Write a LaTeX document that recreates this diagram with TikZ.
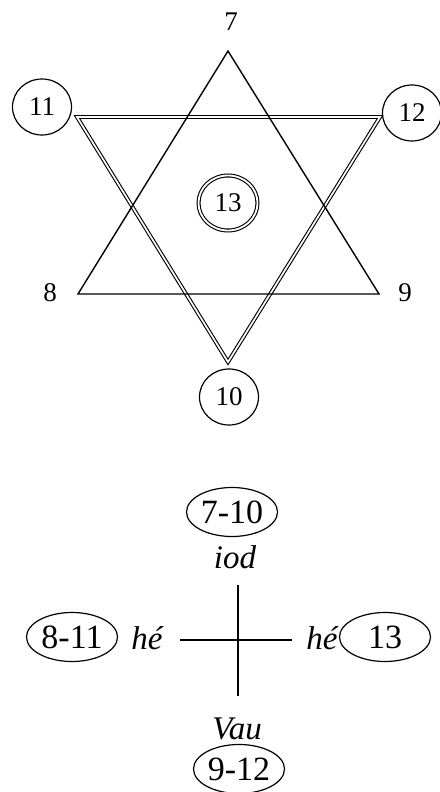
\documentclass[tikz,border=0pt]{standalone}
\usepackage{fontspec}
\setmainfont{Liberation Serif}
\usetikzlibrary{shapes.geometric}
\begin{document}
\begin{tikzpicture}[x=1pt,y=-1pt,
  topnum/.style={font=\fontsize{27}{30}\selectfont, inner sep=0pt},
  topring/.style={ellipse, draw, line width=1.2pt, minimum width=59pt, minimum height=56pt, inner sep=0pt, font=\fontsize{27}{30}\selectfont},
  dblring/.style={ellipse, draw, double, double distance=1.8pt, line width=1.1pt, minimum width=59pt, minimum height=55pt, inner sep=0pt, font=\fontsize{27}{30}\selectfont},
  lowring/.style={ellipse, draw, line width=1.2pt, minimum width=91pt, minimum height=49pt, inner sep=0pt, font=\fontsize{34}{38}\selectfont},
  lowword/.style={font=\fontsize{33}{36}\selectfont\itshape, inner sep=0pt},
  singletri/.style={line width=1.4pt, line join=miter},
  doubletri/.style={double, double distance=1.7pt, line width=1.1pt, line join=miter},
  crossline/.style={line width=1.5pt}]
\useasboundingbox (0,0) rectangle (439,792);
% star vertices
\coordinate (A7) at (228,51);
\coordinate (A8) at (78,294);
\coordinate (A9) at (379,294);
\coordinate (B11) at (77,117);
\coordinate (B12) at (380,117);
\coordinate (B10) at (228,362);
% inverted double triangle, then upright single one
\draw[doubletri] (B11) -- (B12) -- (B10) -- cycle;
\draw[singletri] (A7) -- (A8) -- (A9) -- cycle;
% labels
\node[topnum] (n7) at (231,22) {7};
\node[topnum] (n8) at (50,293) {8};
\node[topnum] (n9) at (405,293) {9};
\node[topring] (c11) at (42,107) {11};
\node[topring] (c12) at (412,113) {12};
\node[topring] (c10) at (229,397) {10};
\node[dblring] (c13) at (228,203) {13};
% lower cross
\node[lowring] (e710) at (232,512) {7-10};
\node[lowword] (iod) at (235,557) {iod};
\node[lowring] (e811) at (72,637) {8-11};
\node[lowword] (he1) at (147,638) {hé};
\node[lowword] (he2) at (322,638) {hé};
\node[lowring] (e13) at (385,637) {13\hspace{10pt}};
\node[lowword] (vau) at (237,729) {Vau};
\node[lowring] (e912) at (239,769) {9-12};
\coordinate (crT) at (238,585);
\coordinate (crB) at (238,696);
\coordinate (crL) at (180,640);
\coordinate (crR) at (292,640);
\draw[crossline] (crT) -- (crB);
\draw[crossline] (crL) -- (crR);
\end{tikzpicture}
\end{document}
